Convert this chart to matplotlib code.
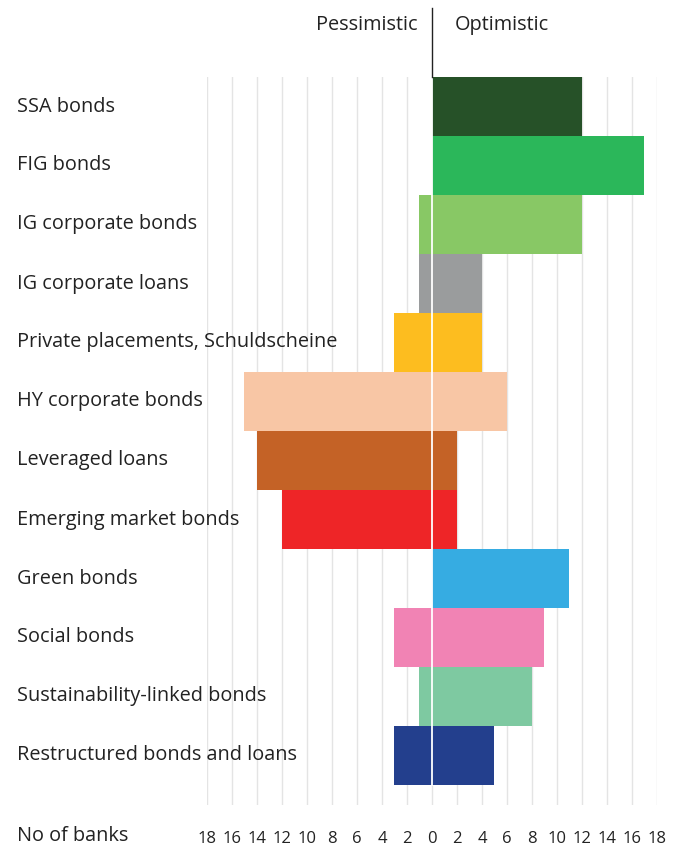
import matplotlib
matplotlib.use("Agg")
import matplotlib.pyplot as plt
import matplotlib.transforms as mtransforms
import numpy as np

# ── Data: number of banks pessimistic / optimistic per asset class ────────────
CATEGORIES = [
    "SSA bonds",
    "FIG bonds",
    "IG corporate bonds",
    "IG corporate loans",
    "Private placements, Schuldscheine",
    "HY corporate bonds",
    "Leveraged loans",
    "Emerging market bonds",
    "Green bonds",
    "Social bonds",
    "Sustainability-linked bonds",
    "Restructured bonds and loans",
]
PESSIMISTIC = [0, 0, 1, 1, 3, 15, 14, 12, 0, 3, 1, 3]
OPTIMISTIC  = [12, 17, 12, 4, 4, 6, 2, 2, 11, 9, 8, 5]
TICKS = [-18, -16, -14, -12, -10, -8, -6, -4, -2, 0, 2, 4, 6, 8, 10, 12, 14, 16, 18]

COLORS = [
    "#265128", "#2bb75a", "#88c865", "#9a9c9d", "#fdbd1f", "#f8c6a5",
    "#c46226", "#ee2527", "#36ace2", "#f183b4", "#7ec9a1", "#233f8d",
]
TEXT = "#222222"
GRID = "#e4e4e4"
FS = 14.3
FS_TICK = 12

plt.rcParams["font.family"] = ["Open Sans", "DejaVu Sans"]

W, H = 680, 850
fig = plt.figure(figsize=(W / 100, H / 100), dpi=100)

# axes placed in pixel coords: x -18..18 -> 207..657, rows from y=77 to 805
x0, x1 = 207, 657
y_top, y_bot = 77, 805
ax = fig.add_axes([x0 / W, 1 - y_bot / H, (x1 - x0) / W, (y_bot - y_top) / H])

n = len(CATEGORIES)
y = np.arange(n)
row_px = 59
ax.set_xlim(-18, 18)
ax.set_ylim(-0.5 + (y_bot - y_top) / row_px, -0.5)

for t in TICKS:
    ax.axvline(t, color=GRID, lw=1, zorder=0)

for i in range(n):
    ax.barh(y[i], -PESSIMISTIC[i], height=1, left=0, color=COLORS[i],
            linewidth=0, zorder=2)
    ax.barh(y[i], OPTIMISTIC[i], height=1, left=0, color=COLORS[i],
            linewidth=0, zorder=2)

# white divider through the bars
ax.plot([0, 0], [-0.5, n - 0.5], color="white", lw=1.3, zorder=3)

for s in ax.spines.values():
    s.set_visible(False)
ax.set_xticks([])
ax.set_yticks([])

# category labels
lab_tr = mtransforms.blended_transform_factory(fig.transFigure, ax.transData)
for i, cat in enumerate(CATEGORIES):
    ax.text(17 / W, y[i], cat, transform=lab_tr,
            ha="left", va="center", fontsize=FS, color=TEXT)

# bottom tick labels (absolute values)
tick_tr = mtransforms.blended_transform_factory(ax.transData, fig.transFigure)
for t in TICKS:
    ax.text(t, 1 - 839 / H, str(abs(t)), transform=tick_tr,
            ha="center", va="center", fontsize=FS_TICK, color=TEXT)
fig.text(17 / W, 1 - 836 / H, "No of banks", ha="left", va="center",
         fontsize=FS, color=TEXT)

# header
zero_x = (x0 + x1) / 2 / W
fig.add_artist(plt.Line2D([zero_x, zero_x], [1 - 8 / H, 1 - y_top / H],
                          color=TEXT, lw=1))
fig.text(zero_x - 14 / W, 1 - 25 / H, "Pessimistic", ha="right", va="center",
         fontsize=FS, color=TEXT)
fig.text(zero_x + 23 / W, 1 - 25 / H, "Optimistic", ha="left", va="center",
         fontsize=FS, color=TEXT)

fig.savefig("out.png", dpi=100, facecolor="white")
